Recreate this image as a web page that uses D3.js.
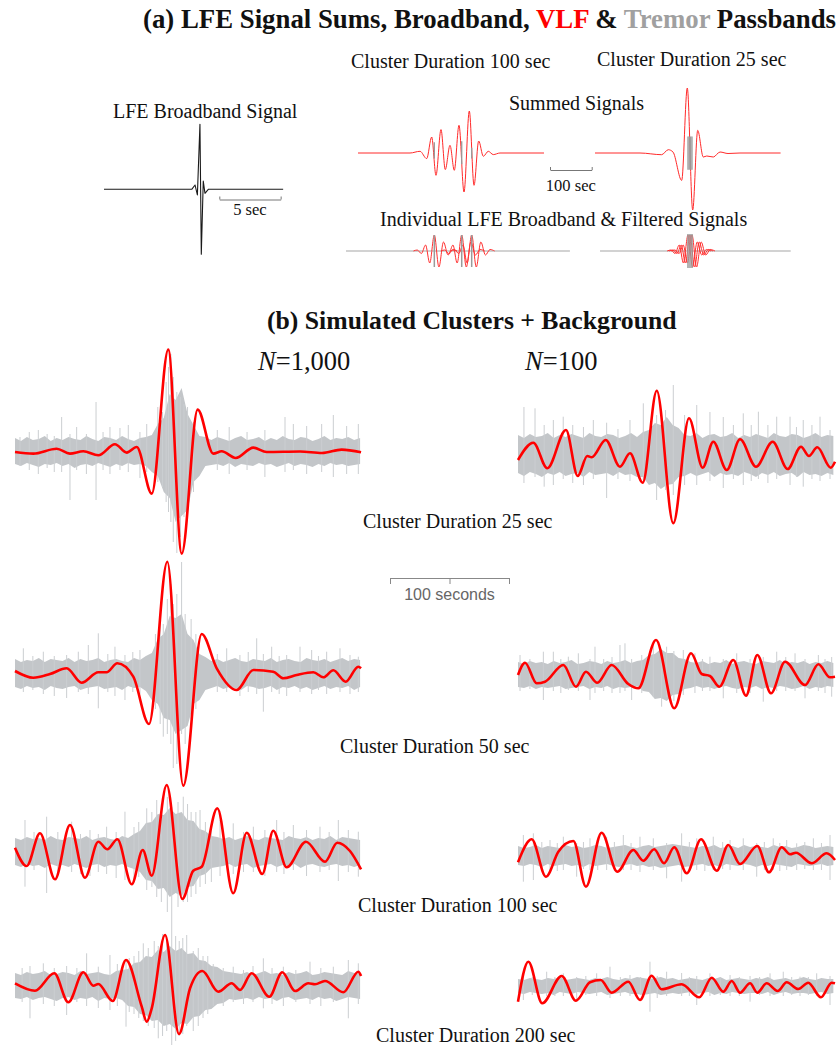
<!DOCTYPE html>
<html>
<head>
<meta charset="utf-8">
<script src="https://cdn.jsdelivr.net/npm/d3@7"></script>
<style>
  body { margin: 0; background: #fff; }
  svg { display: block; }
  text { font-family: "Liberation Serif", "Times New Roman", serif; fill: #111; }
</style>
</head>
<body>
<svg id="fig" width="839" height="1046"></svg>
<script>
// ---------------------------------------------------------------------------
// Data. Times are in seconds, amplitudes in relative units.
// ---------------------------------------------------------------------------

// (a) Single LFE, broadband: [time s, amplitude]
const broadbandLFE = [[0,0],[7.15,0],[7.42,4.3],[7.61,-5.7],[7.82,65],[7.93,-65],[8.09,8.3],[8.23,-4],[8.5,0],[14.6,0]];

// (a) Summed VLF signals (left: 100 s cluster, right: 25 s cluster)
const summedVLF100 = [[28.8,0],[153.5,0],[177.5,1.7],[193.5,-5.6],[205.5,16],[215.8,-22.3],[227.8,23.4],[238.1,-16.6],[249.4,7.7],[259.7,-17.3],[271,27.7],[283,-39],[295.7,42],[307,-32.3],[318.2,12],[329.3,-3.3],[341.2,1.7],[353.2,-1.6],[369.3,0],[474.8,0]];
const summedVLF25 = [[0,0],[107.9,0],[159.8,-1.7],[175.8,3.3],[187,1],[207.9,-27.4],[221.3,65],[234.3,-57],[246.3,22.6],[259.7,-4],[268,-3],[283.7,-4],[299.8,1],[319,-0.5],[347.7,0],[445,0]];
// Summed broadband (tremor-band) bursts: [time, up, down]
const summedBB100 = [[211.8,10.7,5.6],[277.5,11.7,11.3],[301.4,5.3,5.6]];
const summedBB25 = [[223,16.6,16.7],[226,16.6,16.7],[229.5,16.6,16.7],[232.6,16.6,16.7]];

// (a) Individual LFEs: event times and the VLF-filtered wavelet [dt, amplitude]
const eventTimes100 = [211.8, 277.5, 301.4];
const eventTimes25 = [223, 227.8, 232.6];
const vlfWavelet = [[-50,0],[-41,1],[-31,-2.5],[-21,6],[-11,-12],[0,16],[11,-16],[22,9],[33,-4],[44,1.5],[55,0]];
const bbEventAmp100 = 16;
const bbEventAmp25 = 17;

// (b) VLF traces of simulated clusters: [time s, amplitude]
const vlfN1000_25 = [[0,0],[15.4,-1.6],[35,3.3],[46.2,-1.6],[57.4,0.7],[70,-3.3],[84,7.7],[93.9,-0.6],[102.3,5],[114.9,-41.6],[128.8,102.4],[140.1,-101.6],[153.5,42.4],[166.6,-1.6],[173.7,0.7],[185.5,-6],[200.3,4.4],[211.5,0],[239.5,0.5],[258,-1],[274.5,2.4],[290.8,-0.3]];
const vlfN100_25 = [[0,-5],[12.9,12.3],[24.6,-13.3],[40.3,25],[50.2,-21],[58.2,-1],[61.9,-2.3],[73.7,15],[85.7,-11.7],[94.1,1.7],[104.8,-27.7],[116.6,64.3],[130.5,-68.3],[143.7,36.7],[155.2,-12.7],[164.1,13.3],[175.4,-15],[186.6,15.7],[200,-11.7],[214,13.3],[226.6,-14],[237.8,8.3],[244.5,-1],[251.5,7.7],[262.8,-12.7],[266.4,-6.7]];
const vlfN1000_50 = [[0,3],[15.4,-3.7],[29.4,0],[43.4,5.7],[56,-8.7],[70,1.7],[77,1.7],[86,10.7],[99.4,-2.7],[112.6,-50],[128,112.3],[141.4,-111.7],[156.9,40],[169.5,5.7],[186.3,-16],[200.3,4],[217,2.3],[225.5,-4.3],[236.7,-1],[250.7,1.7],[259.1,-3.3],[267.5,3.7],[277.9,-7.7],[288.5,7.3],[290.8,5.7]];
const vlfN100_50 = [[0,0],[5.9,12.3],[15.7,-8.3],[22.7,-6.7],[38.1,10],[48.7,-11.7],[57.1,3.3],[66.6,-7.7],[78.7,10],[92.7,-9],[101.1,-13.3],[116,35],[131.3,-33.3],[145.4,21.7],[154.4,1],[161.3,-1],[169.2,-11.7],[180.9,15],[191.6,-20.7],[201.1,20],[212.6,-18.3],[224.4,13.3],[241.2,-10],[252.4,10.7],[262.2,-2.3],[266.4,-1.7]];
const vlfN1000_100 = [[0,4.3],[9.8,-14],[21,18.7],[33.6,-27.3],[46.2,27],[58.8,-25.7],[70,10.3],[77.6,2.7],[86,12.7],[98.1,-32.3],[107.3,2],[114.9,-23.7],[127.5,67],[140.6,-47],[149.8,-18.7],[156.9,-14.7],[170,43.7],[183.4,-41.3],[194.7,19.3],[207.8,-22],[217,21.3],[228.3,-15.3],[244.5,10.3],[260.5,-9.7],[270.8,9.3],[281.5,1],[290.8,-17.3]];
const vlfN100_100 = [[0,-6.3],[11.5,16.7],[23.5,-20.7],[33.9,4.3],[46.5,15],[57.1,-30.7],[70.3,23.3],[83.4,-15.7],[96.9,6],[105.3,-4.7],[114.5,6.7],[122.7,-7.3],[131.3,8.7],[141.8,-17.3],[153.8,16.7],[167,-14.7],[176.7,11],[186.6,-8],[201.1,10],[210.9,-16.3],[221.6,8.7],[228.6,1.7],[233.6,3.3],[246.8,-7.3],[259.4,2.7],[266.4,-4]];
const vlfN1000_200 = [[0,2.7],[16.8,-4.7],[33,12.7],[44.8,-16.3],[57.4,13.7],[65.8,0.3],[70,2],[82.1,-15],[93.3,26],[106.5,-20.7],[110.7,-35.7],[114.9,-22.3],[126.1,51],[137.8,-48],[147.1,-2.3],[157.4,15],[170.8,-5.7],[182.1,2.7],[189.1,-4],[198.9,12.7],[213.7,-10.7],[224.6,13.7],[235.3,-5],[246.5,2.7],[252.1,1.7],[260.5,5],[275.9,-6.3],[288.5,14.3],[290.8,10]];
const vlfN100_200 = [[0,-15.7],[8.7,24.3],[20.4,-17.3],[36.7,10],[48.7,-14.7],[60.5,3.7],[69.5,6],[78.7,-6.7],[92.7,4.3],[102.5,-14],[112.3,10.3],[120.7,-3.3],[137.5,1.7],[152.3,-11.3],[162.8,8.3],[172.5,-5.7],[179.6,5],[186.6,-6.7],[195,2.7],[201.1,-6.7],[209,2.7],[218.2,-5],[225.8,3.7],[235.5,-3],[243.9,3.3],[254.6,-11.3],[263.6,3.3],[266.4,2.7]];

// (b) Broadband background: envelope sampled every NOISE_DT seconds (upper / lower half-widths)
const NOISE_DT = 5;
const upN1000_25 = [14,11,15,12,13,16,11,14,12,15,13,12,16,13,11,15,14,12,16,13,11,14,15, 17,28,34,58,52,64,38,27,16,15, 12,15,13,11,14,16,12,13,15,11,14,12,16,13,12,15,14,11,13,16,12,14,13,15,12,14];
const dnN1000_25 = [12,14,11,13,15,12,13,11,14,12,16,13,12,14,11,13,15,12,14,11,13,12,14, 20,24,40,46,70,64,58,30,24,14, 13,12,14,11,15,12,13,14,11,13,12,15,13,11,14,12,13,15,12,14,11,13,12,14,13,12];
const upN100_25 = [20,17,21,18,19,22,17,20,18,21,19,17,22,19,18,21,20,17,19,22,18, 23,25,32,30,38,30,27,20, 19,22,17,20,21,18,19,22,17,20,18,21,19,17,22,19,18,21,20,17,19,22,18,20,19];
const dnN100_25 = [18,21,17,19,22,18,20,17,21,19,18,22,17,20,19,18,21,17,20,19,22, 22,30,28,34,30,29,22,21, 18,21,19,17,22,18,20,19,21,17,19,22,18,20,17,21,19,18,22,17,20,19,21,18,20];
const upN1000_50 = [15,12,14,13,16,12,15,14,13,16,12,15,13,14,16,12,14,15,13,12,16,14, 18,21,35,40,58,56,60,40,34,20,17, 13,15,12,14,16,13,12,15,14,13,16,12,14,15,13,12,16,14,13,15,12,14,16,13,15,14];
const dnN1000_50 = [13,15,12,14,13,16,12,14,15,13,12,16,14,13,12,15,14,13,16,12,14,13, 17,26,30,44,46,60,56,52,30,26,16, 14,12,15,13,14,16,12,13,15,14,12,16,13,14,12,15,13,16,14,12,15,13,14,12,16,13];
const upN100_50 = [13,11,14,12,13,11,14,12,13,15,11,12,14,13,11,14,12,13,15,12,14, 15,20,21,26,22,22,17,16,13, 12,14,11,13,12,15,11,13,14,12,11,14,13,12,15,11,13,12,14,11,13,12,14,12];
const dnN100_50 = [12,13,11,14,12,13,12,11,14,13,12,11,14,12,13,11,14,12,13,12,11, 16,17,24,23,26,20,19,14,13, 11,13,12,14,12,11,13,14,12,13,11,14,12,13,11,12,14,13,11,14,12,13,11,12];
const upN1000_100 = [14,12,15,13,14,12,16,13,12,15,14,13,16,12,14,15,13,12,16,14, 18,21,29,30,38,37,44,38,40,32,31,23,21,16,15, 13,15,12,14,16,13,12,15,14,13,12,16,14,13,15,12,14,13,16,12,15,14,13,12];
const dnN1000_100 = [13,15,12,14,13,16,12,14,13,15,12,14,16,13,12,15,13,14,12,15, 17,20,28,29,37,36,45,41,44,35,34,24,22,16,15, 14,12,15,13,12,16,14,13,12,15,13,14,12,16,13,12,14,15,13,12,14,13,15,13];
const upN100_100 = [10,8,9,11,8,10,9,8,11,9,10,8,9,11,10,8,9,10,11,9,8,10,11,9,10,11,12,11,10,9,8,10,9,11,8,9,10,8,11,9,10,9,8,11,9,10,8,9,11,10,8,9,10,9];
const dnN100_100 = [9,10,8,9,11,8,10,9,8,10,9,11,8,10,9,8,10,11,9,8,10,9,11,10,12,11,10,9,11,10,9,8,10,9,11,8,9,10,8,9,11,9,10,8,9,10,11,8,9,10,9,8,10,9];
const upN1000_200 = [13,11,14,12,13,15,11,12,14,13,11,15,12,13,14,12,11,15, 16,17,23,24,30,29,36,34,40,35,38,32,33,26,25,20,19,15,14,13, 12,14,11,13,15,12,13,11,14,12,13,15,11,12,14,13,12,11,15,13,12];
const dnN1000_200 = [12,13,11,14,12,11,13,15,12,11,14,12,13,11,15,12,13,12, 14,20,21,28,29,35,34,40,38,43,37,38,31,30,24,23,18,17,13,14, 13,12,14,11,13,12,15,12,11,14,13,12,14,11,13,12,15,13,11,12,13];
const upN100_200 = [7,6,8,7,6,8,7,9,6,7,8,7,6,8,7,9,7,6,8,7,9,8,7,8,9,7,8,6,7,8,7,6,8,7,9,6,7,8,7,6,8,7,9,6,7,8,6,7,9,7,6,8,7,7];
const dnN100_200 = [7,8,6,7,8,7,9,6,7,8,6,7,8,7,6,9,8,7,6,8,8,9,8,7,9,8,7,8,7,6,8,7,6,9,7,8,6,7,8,7,7,8,6,9,7,6,8,7,7,8,7,6,8,7];

// (b) Isolated broadband spikes: [time s, up, down]
const spikesN1000_25 = [[4.2,15,14],[12,20,18],[19.6,22,22],[27,18,16],[33,16,20],[39.2,35,20],[46.2,18,48],[51.8,25,18],[60,18,22],[68.1,50,48],[74,20,18],[79.8,25,22],[88.2,24,18],[95.2,27,20],[105,20,26],[110.7,28,20],[120,45,30],[124,40,35],[127,70,50],[129,85,60],[131,98,70],[133,75,90],[136,60,101],[139,55,85],[142,48,65],[145,45,60],[150,30,40],[170,22,18],[180,25,22],[195,20,18],[210,22,25],[226.9,35,20],[233.9,28,18],[245.1,26,22],[257.7,28,20],[267.5,37,25],[278.7,26,22],[288.5,28,22]];
const spikesN100_25 = [[5,48,28],[14.3,46.7,22],[22,30,31.7],[29.7,35,30],[38,38.3,24],[46,30,28],[55,28,30],[63.3,35,24],[74.5,32.3,43],[84,26,24],[94.1,35,26],[105.3,51.7,28],[116.5,40,45],[124,45,35],[130.5,70,40],[140,40,30],[150.2,50,30],[161.3,43,26],[172.5,38,33],[181,30,24],[189.3,41.7,30],[196,30,26],[202,43.3,24],[210,30,28],[217.4,38.3,24],[228.6,38.3,30],[234,28,22],[239.7,35,31.7],[247,30,24],[253.8,38.3,26],[262.2,25,24]];
const spikesN1000_50 = [[7,25.7,18],[15,18,16],[23.8,22.3,20],[33,18,22],[43.4,19,24],[53.2,22.3,18],[61.6,29,20],[70,40.7,34.3],[78,20,18],[84,27.3,22],[92.4,19,26],[99,22,18],[105,24,20],[118,40,35],[122,55,50],[124.6,50,62.7],[128,75,60],[131,90,70],[133,70,94],[136,80,90],[140,112,60],[143,60,70],[148,55,45],[152,40,35],[170,20,18],[177.9,25.7,18],[189,19,22],[196,22,18],[203.1,35.7,20],[208.7,20,37.7],[215.7,27.3,18],[222,18,20],[228.3,19,22],[239.5,27.3,18],[249.3,24,20],[255,18,16],[261.9,22.3,20],[273.1,25.7,18],[281.5,19,20],[288.5,17.3,18]];
const spikesN100_50 = [[1.7,20,16],[10,16,14],[21.3,23.3,25],[29.7,23.3,16],[36,16,18],[42.3,18.3,15],[50.7,21.7,16],[60.5,16,25],[64.7,28.3,18],[72,16,16],[79,18,18],[85.7,30,18],[89.9,31.7,16],[95.5,16,25],[104,20,18],[113.7,31.7,22],[120.7,22,31.7],[124.9,28.3,22],[131,24,26],[138.9,25,20],[148.7,21.7,18],[155,16,16],[161.3,18.3,16],[172.5,16,23.3],[183.8,21.7,18],[195,16,18],[206.1,18,26.7],[217.4,23.3,16],[225,18,16],[232.8,21.7,16],[241.2,16,23.3],[252.4,20,16],[258,16,18],[263.6,18,21.7]];
const spikesN1000_100 = [[8.4,32,34.7],[16,20,18],[26.6,35.3,41],[36,20,22],[47.6,30.3,20],[55,18,22],[63,22,24],[70,18,20],[77,25.3,22],[85,20,26],[92.4,40.3,28],[100,25,30],[104,30,25],[110.7,43.7,38],[115,40,35],[119.1,52,45],[123,48,50],[128,55,60],[131.7,45,68],[137,50,55],[141.4,55.3,50],[145,48,50],[148,40,45],[152,40,42],[155.5,42,35],[160,30,32],[165,28,30],[172.3,32,24],[183.4,28.7,22],[192,20,20],[200.3,25.3,20],[210,22,24],[219.9,32,20],[226,20,22],[233.9,27,18],[245,22,24],[256.3,25.3,20],[264,20,18],[271.7,32,29],[280.1,22,20],[288.5,20.3,24.7]];
const spikesN100_100 = [[4.5,21,25.7],[12.9,22.7,24],[20,14,13],[26.9,16,14],[33,13,15],[38.1,19.3,14],[49.3,13,20.7],[55,14,13],[60.5,17.7,14],[67,13,14],[74.5,19.3,14],[81,14,15],[88.5,21,14],[95,13,14],[102.5,19.3,16],[113.7,17.7,14],[124.9,13,22.3],[137.5,22.7,25.7],[144,14,14],[150.2,17.7,14],[157,13,15],[164.1,19.3,14],[172,14,13],[178.2,16,14],[189.3,17.7,14],[200.6,13,20.7],[207,14,14],[214.5,17.7,14],[220,13,15],[225.8,16,14],[234.2,12.7,14],[241,14,13],[248.2,17.7,14],[255,13,14],[262.2,21,24]];
const spikesN1000_200 = [[6,18,16],[12.6,20,32.3],[23.8,22.7,18],[33,18,20],[43.4,20,29],[52,18,16],[60.2,32.7,20],[70,19.3,22],[79.8,31,24],[86,22,20],[93.3,26,40.7],[96,28,26],[100,30,28],[104,35,32],[107.8,42.7,35],[112,38,40],[117,45,42],[120.4,40,52.3],[124,52,50],[127.5,49.3,45],[131.7,66,59],[135,50,55],[138,45,50],[141,48,48],[144.3,51,40],[149.8,35,45],[154,38,40],[158,30,32],[162,30,28],[166.6,22,20],[175,18,20],[183.4,19.3,16],[192,16,18],[200,20,16],[208.7,27.7,22.3],[216,18,18],[225.5,19.3,20],[236,16,16],[247.9,24.3,18],[257,18,20],[267.5,19.3,16],[280.1,26,32.3],[288.5,22.7,18]];
const spikesN100_200 = [[4.5,11,14],[12,9,9],[24.1,14.3,10],[31,9,10],[38.1,12.7,10],[49.3,9,15.7],[57,10,9],[66.1,12.7,10],[77.3,19.3,12],[86,9,10],[94.1,11,10],[103,9,9],[110.9,24.3,25.7],[117,10,12],[124.9,14.3,10],[137.5,13,10],[144,9,10],[150.2,10,19],[161.3,12.7,10],[170,9,9],[178.2,11,10],[186,9,10],[195,10,15.7],[203,9,9],[211.8,12.7,10],[222.9,14.3,10],[230,9,9],[237,9.3,10],[244,9,9],[251,12.7,10],[262.2,10,19]];

// Cluster durations (s) and catalogue sizes
const clusterDurations = [25, 50, 100, 200];
const catalogueSizes = ["1,000", "100"];

// ---------------------------------------------------------------------------
// Drawing
// ---------------------------------------------------------------------------
const svg = d3.select("#fig");
const RED = "#ff0000";
const GRAY_CORE = "#c3c6c9";
const GRAY_SPIKE = "#cbced1";

function ampScale(base) {
  return d3.scaleLinear().domain([-1, 1]).range([base + 1, base - 1]);
}
function timeScale(x0, t0, t1, pps) {
  return d3.scaleLinear().domain([t0, t1]).range([x0, x0 + (t1 - t0) * pps]);
}
function trace(g, pts, xs, ys, color, width, curve) {
  g.append("path")
    .datum(pts)
    .attr("fill", "none")
    .attr("stroke", color)
    .attr("stroke-width", width)
    .attr("stroke-linejoin", "round")
    .attr("d", d3.line().x(d => xs(d[0])).y(d => ys(d[1])).curve(curve || d3.curveMonotoneX));
}
function bursts(g, rows, xs, ys, color, width) {
  g.selectAll(null).data(rows).join("line")
    .attr("x1", d => xs(d[0])).attr("x2", d => xs(d[0]))
    .attr("y1", d => ys(d[1])).attr("y2", d => ys(-d[2]))
    .attr("stroke", color).attr("stroke-width", width);
}
function noise(g, up, dn, spikes, xs, ys) {
  const env = up.map((u, i) => [i * NOISE_DT, u, dn[i]]);
  g.append("path").datum(env)
    .attr("fill", GRAY_CORE)
    .attr("d", d3.area().x(d => xs(d[0])).y0(d => ys(-d[2])).y1(d => ys(d[1])).curve(d3.curveLinear));
  bursts(g, spikes, xs, ys, GRAY_SPIKE, 1);
}
function label(txt, x, y, size, opts = {}) {
  const t = svg.append("text").attr("x", x).attr("y", y)
    .attr("font-size", size)
    .attr("text-anchor", opts.anchor || "start");
  if (opts.bold) t.attr("font-weight", "bold");
  if (opts.family) t.style("font-family", opts.family);
  if (opts.fill) t.style("fill", opts.fill);
  t.text(txt);
  return t;
}

// ----- Titles -----
const titleA = svg.append("text").attr("x", 143).attr("y", 28)
  .attr("font-size", 26.8).attr("font-weight", "bold");
titleA.append("tspan").text("(a) LFE Signal Sums, Broadband, ");
titleA.append("tspan").style("fill", "#ff0000").text("VLF");
titleA.append("tspan").text(" & ");
titleA.append("tspan").style("fill", "#a0a0a0").text("Tremor");
titleA.append("tspan").text(" Passbands");

label("(b) Simulated Clusters + Background", 267, 329, 25.7, { bold: true });

// ----- (a) Single broadband LFE -----
{
  const pps = 12.27;
  const xs = timeScale(104, 0, 14.6, pps);
  const ys = ampScale(189.3);
  const g = svg.append("g");
  trace(g, broadbandLFE, xs, ys, "#1a1a1a", 1.1, d3.curveLinear);
  label("LFE Broadband Signal", 113, 118, 20);
  const bar = timeScale(219.3, 0, 5, pps);
  svg.append("g").attr("transform", "translate(0,199.5)")
    .call(d3.axisTop(bar).tickValues([0, 5]).tickSize(3).tickSizeOuter(0).tickFormat(""))
    .call(a => a.selectAll("path,line").attr("stroke", "#777"));
  label("5 sec", bar(2.5), 215, 16.5, { anchor: "middle" });
}

// ----- (a) Summed and individual signals -----
{
  const pps = 0.417;
  const ysSum = ampScale(153);
  const ysInd = ampScale(251);
  // left column: 100 s cluster, right column: 25 s cluster
  const cols = [
    { x0: 346, sum: summedVLF100, sumBB: summedBB100, ev: eventTimes100, bbAmp: bbEventAmp100, ind: [0, 537] },
    { x0: 595, sum: summedVLF25, sumBB: summedBB25, ev: eventTimes25, bbAmp: bbEventAmp25, ind: [12, 469.3] }
  ];
  cols.forEach(c => {
    const xs = timeScale(c.x0, 0, 600, pps);
    const g = svg.append("g");
    trace(g, c.sum, xs, ysSum, "#ff2a2a", 1, d3.curveMonotoneX);
    bursts(g, c.sumBB, xs, ysSum, "#999", 1.3);

    // individual events
    g.append("line")
      .attr("x1", xs(c.ind[0])).attr("x2", xs(c.ind[1]))
      .attr("y1", ysInd(0)).attr("y2", ysInd(0))
      .attr("stroke", "#a6a6a6").attr("stroke-width", 1.2);
    c.ev.forEach(t0 => {
      trace(g, vlfWavelet.map(d => [t0 + d[0], d[1]]), xs, ysInd, "#ff3030", 1, d3.curveMonotoneX);
    });
    bursts(g, c.ev.map(t => [t, c.bbAmp, c.bbAmp]), xs, ysInd, "#9a9a9a", 1.5);
  });

  label("Cluster Duration 100 sec", 351, 68, 20);
  label("Cluster Duration 25 sec", 597, 66, 20);
  label("Summed Signals", 509, 110, 20);
  label("Individual LFE Broadband & Filtered Signals", 380, 226, 20);

  const bar = timeScale(550, 0, 100, pps);
  svg.append("g").attr("transform", "translate(0,170)")
    .call(d3.axisTop(bar).tickValues([0, 100]).tickSize(3).tickSizeOuter(0).tickFormat(""))
    .call(a => a.selectAll("path,line").attr("stroke", "#777"));
  label("100 sec", bar(50), 191, 16.5, { anchor: "middle" });
}

// ----- (b) Simulated clusters with background -----
{
  const pps = 1.19;
  const rows = [
    { left: [upN1000_25, dnN1000_25, spikesN1000_25, vlfN1000_25, 452], right: [upN100_25, dnN100_25, spikesN100_25, vlfN100_25, 455], lx: 363, ly: 528 },
    { left: [upN1000_50, dnN1000_50, spikesN1000_50, vlfN1000_50, 674], right: [upN100_50, dnN100_50, spikesN100_50, vlfN100_50, 675], lx: 340, ly: 753 },
    { left: [upN1000_100, dnN1000_100, spikesN1000_100, vlfN1000_100, 852], right: [upN100_100, dnN100_100, spikesN100_100, vlfN100_100, 856], lx: 358, ly: 912 },
    { left: [upN1000_200, dnN1000_200, spikesN1000_200, vlfN1000_200, 986], right: [upN100_200, dnN100_200, spikesN100_200, vlfN100_200, 986], lx: 376, ly: 1042 }
  ];
  const xsL = timeScale(15, 0, 290.8, pps);
  const xsR = timeScale(518, 0, 266.4, pps);
  const gNoise = svg.append("g");
  const gVLF = svg.append("g");
  rows.forEach((r, i) => {
    [[r.left, xsL], [r.right, xsR]].forEach(([p, xs]) => {
      const ys = ampScale(p[4]);
      noise(gNoise, p[0], p[1], p[2], xs, ys);
      trace(gVLF, p[3], xs, ys, RED, 2.6, d3.curveMonotoneX);
    });
    label(`Cluster Duration ${clusterDurations[i]} sec`, r.lx, r.ly, 20);
  });

  // catalogue size headers
  [[258, catalogueSizes[0]], [525, catalogueSizes[1]]].forEach(([x, n]) => {
    const t = svg.append("text").attr("x", x).attr("y", 370).attr("font-size", 26.5);
    t.append("tspan").style("font-style", "italic").text("N");
    t.append("tspan").text("=" + n);
  });

  // time scale bar
  const bar = timeScale(390, 0, 100, pps);
  svg.append("g").attr("transform", "translate(0,578)")
    .call(d3.axisBottom(bar).tickValues([0, 50, 100]).tickSize(6).tickSizeOuter(0).tickFormat(""))
    .call(a => a.selectAll("path,line").attr("stroke", "#888"));
  label("100 seconds", bar(50), 600, 16, { anchor: "middle", family: "'Liberation Sans', Arial, sans-serif", fill: "#666" });
}
</script>
</body>
</html>
